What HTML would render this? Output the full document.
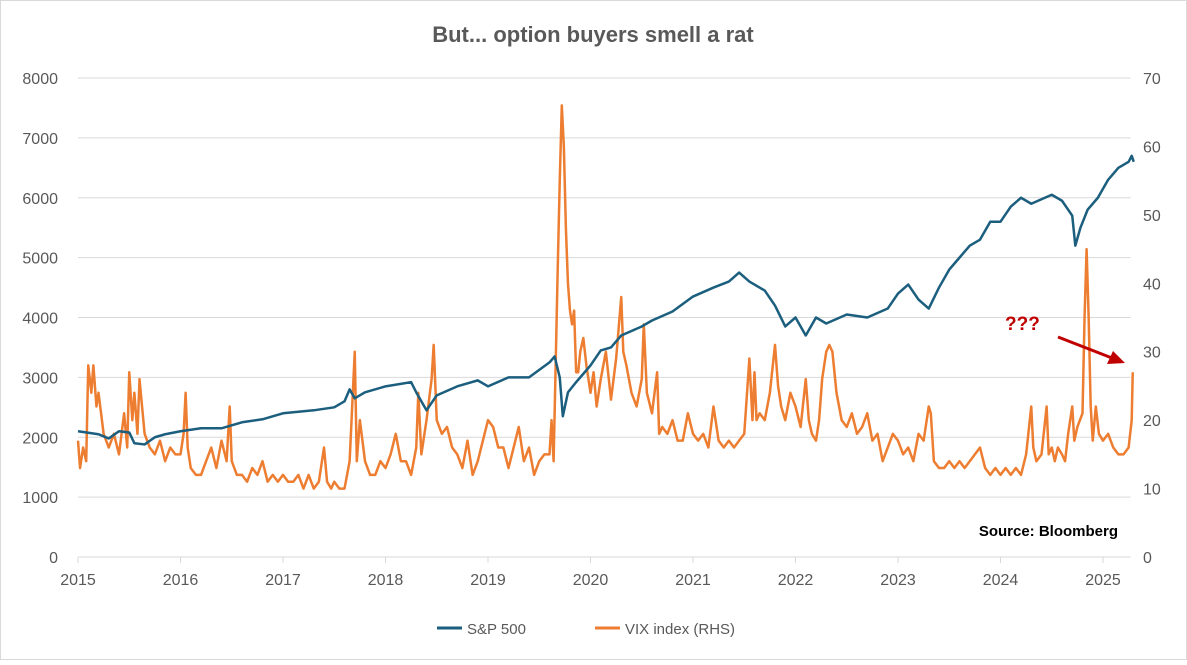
<!DOCTYPE html>
<html><head><meta charset="utf-8"><style>
body{margin:0;background:#fff;}
#wrap{position:relative;width:1187px;height:660px;font-family:"Liberation Sans",sans-serif;}
svg text{font-family:"Liberation Sans",sans-serif;}
</style></head><body>
<div id="wrap">
<svg id="chart" width="1187" height="660">
<rect x="0.5" y="0.5" width="1186" height="659" fill="#fff" stroke="#d9d9d9"/>
<text x="593" y="42" text-anchor="middle" font-size="22" font-weight="bold" fill="#595959">But... option buyers smell a rat</text>
<g id="grid"></g><g id="axes"></g><g id="series"></g>
<text x="1118" y="536" text-anchor="end" font-size="15" font-weight="bold" fill="#000">Source: Bloomberg</text>
<text x="1005" y="330" font-size="19" font-weight="bold" fill="#c00000">???</text>
<line x1="1058" y1="337" x2="1112" y2="358" stroke="#c00000" stroke-width="3"/>
<polygon points="1125,363 1107,364 1113,351" fill="#c00000"/>
<line x1="437" y1="628" x2="462" y2="628" stroke="#1b5e7e" stroke-width="3"/>
<text x="467" y="634" font-size="15" fill="#595959">S&amp;P 500</text>
<line x1="595" y1="628" x2="620" y2="628" stroke="#ed7d31" stroke-width="3"/>
<text x="625" y="634" font-size="15" fill="#595959">VIX index (RHS)</text>
</svg></div>
<script>
const xTicks=[2015,2016,2017,2018,2019,2020,2021,2022,2023,2024,2025];
const leftTicks=[0,1000,2000,3000,4000,5000,6000,7000,8000];
const rightTicks=[0,10,20,30,40,50,60,70];
const spT=[2015.0,2015.2,2015.3,2015.4,2015.5,2015.55,2015.65,2015.75,2015.85,2016.0,2016.2,2016.4,2016.5,2016.6,2016.8,2017.0,2017.3,2017.5,2017.6,2017.65,2017.7,2017.8,2018.0,2018.25,2018.3,2018.4,2018.5,2018.7,2018.9,2019.0,2019.2,2019.4,2019.6,2019.65,2019.7,2019.73,2019.78,2019.85,2019.9,2020.0,2020.1,2020.2,2020.3,2020.5,2020.6,2020.8,2021.0,2021.2,2021.35,2021.45,2021.55,2021.7,2021.8,2021.9,2022.0,2022.1,2022.2,2022.3,2022.5,2022.7,2022.9,2023.0,2023.1,2023.2,2023.3,2023.4,2023.5,2023.6,2023.7,2023.8,2023.9,2024.0,2024.1,2024.2,2024.3,2024.5,2024.6,2024.7,2024.73,2024.78,2024.85,2024.95,2025.05,2025.15,2025.25,2025.28,2025.3];
const spV=[2100,2050,1980,2100,2080,1900,1880,2000,2050,2100,2150,2150,2200,2250,2300,2400,2450,2500,2600,2800,2650,2750,2850,2920,2750,2450,2700,2850,2950,2850,3000,3000,3250,3350,3000,2350,2750,2900,3000,3200,3450,3500,3700,3850,3950,4100,4350,4500,4600,4750,4600,4450,4200,3850,4000,3700,4000,3900,4050,4000,4150,4400,4550,4300,4150,4500,4800,5000,5200,5300,5600,5600,5850,6000,5900,6050,5950,5700,5200,5500,5800,6000,6300,6500,6600,6700,6600];
const vixT=[2015.0,2015.02,2015.05,2015.08,2015.1,2015.13,2015.15,2015.18,2015.2,2015.25,2015.3,2015.35,2015.4,2015.45,2015.48,2015.5,2015.53,2015.55,2015.58,2015.6,2015.65,2015.7,2015.75,2015.8,2015.85,2015.9,2015.95,2016.0,2016.03,2016.05,2016.07,2016.1,2016.15,2016.2,2016.25,2016.3,2016.35,2016.4,2016.45,2016.48,2016.5,2016.55,2016.6,2016.65,2016.7,2016.75,2016.8,2016.85,2016.9,2016.95,2017.0,2017.05,2017.1,2017.15,2017.2,2017.25,2017.3,2017.35,2017.4,2017.43,2017.47,2017.5,2017.55,2017.6,2017.65,2017.7,2017.72,2017.75,2017.8,2017.85,2017.9,2017.95,2018.0,2018.05,2018.1,2018.15,2018.2,2018.25,2018.3,2018.32,2018.35,2018.4,2018.45,2018.47,2018.5,2018.55,2018.6,2018.65,2018.7,2018.75,2018.8,2018.85,2018.9,2018.95,2019.0,2019.05,2019.1,2019.15,2019.2,2019.25,2019.3,2019.35,2019.4,2019.45,2019.5,2019.55,2019.6,2019.62,2019.64,2019.66,2019.68,2019.7,2019.72,2019.74,2019.76,2019.78,2019.8,2019.82,2019.84,2019.86,2019.88,2019.9,2019.93,2019.96,2020.0,2020.03,2020.06,2020.1,2020.15,2020.2,2020.25,2020.3,2020.32,2020.35,2020.4,2020.45,2020.5,2020.52,2020.55,2020.6,2020.65,2020.67,2020.7,2020.75,2020.8,2020.85,2020.9,2020.95,2021.0,2021.05,2021.1,2021.15,2021.2,2021.25,2021.3,2021.35,2021.4,2021.45,2021.5,2021.55,2021.58,2021.6,2021.62,2021.65,2021.7,2021.75,2021.8,2021.83,2021.86,2021.9,2021.95,2022.0,2022.05,2022.1,2022.13,2022.16,2022.2,2022.23,2022.26,2022.3,2022.33,2022.36,2022.4,2022.45,2022.5,2022.55,2022.6,2022.65,2022.7,2022.75,2022.8,2022.85,2022.9,2022.95,2023.0,2023.05,2023.1,2023.15,2023.2,2023.25,2023.3,2023.32,2023.35,2023.4,2023.45,2023.5,2023.55,2023.6,2023.65,2023.7,2023.75,2023.8,2023.85,2023.9,2023.95,2024.0,2024.05,2024.1,2024.15,2024.2,2024.25,2024.3,2024.32,2024.35,2024.4,2024.45,2024.47,2024.5,2024.53,2024.56,2024.6,2024.63,2024.66,2024.7,2024.72,2024.75,2024.8,2024.82,2024.84,2024.86,2024.88,2024.9,2024.93,2024.96,2025.0,2025.05,2025.1,2025.15,2025.2,2025.25,2025.28,2025.29];
const vixV=[17,13,16,14,28,24,28,22,24,18,16,18,15,21,16,27,20,24,18,26,18,16,15,17,14,16,15,15,18,24,16,13,12,12,14,16,13,17,14,22,14,12,12,11,13,12,14,11,12,11,12,11,11,12,10,12,10,11,16,11,10,11,10,10,14,30,14,20,14,12,12,14,13,15,18,14,14,12,16,24,15,20,26,31,20,18,19,16,15,13,17,12,14,17,20,19,16,16,13,16,19,14,16,12,14,15,15,20,14,28,42,55,66,60,48,40,36,34,36,27,27,30,32,28,24,27,22,26,30,23,29,38,30,28,24,22,26,34,24,21,27,18,19,18,20,17,17,21,18,17,18,16,22,17,16,17,16,17,18,29,20,27,20,21,20,24,31,25,22,20,24,22,19,26,20,18,17,20,26,30,31,30,24,20,19,21,18,19,21,17,18,14,16,18,17,15,16,14,18,17,22,21,14,13,13,14,13,14,13,14,15,16,13,12,13,12,13,12,13,12,15,22,16,14,15,22,15,16,14,16,15,14,18,22,17,19,21,35,45,35,22,17,22,18,17,18,16,15,15,16,20,27];
const NS='http://www.w3.org/2000/svg';
const X0=78,X1=1130.5,Y0=557,Y1=78;
const xs=t=>X0+(t-2015)*(1103-X0)/10;
const yL=v=>Y0-v*(Y0-Y1)/8000;
const yR=v=>Y0-v*(Y0-Y1)/70;
function mk(tag,attrs,parent){const e=document.createElementNS(NS,tag);for(const k in attrs)e.setAttribute(k,attrs[k]);parent.appendChild(e);return e;}
const grid=document.getElementById('grid'),axes=document.getElementById('axes'),ser=document.getElementById('series');
leftTicks.forEach(v=>{
 if(v>0){const g=mk('line',{x1:X0,x2:X1,y1:yL(v),y2:yL(v),stroke:'#d9d9d9','stroke-width':1},grid);
 
 }
 const t=mk('text',{x:58,y:yL(v)+6,'text-anchor':'end','font-size':16,fill:'#595959'},axes);t.textContent=v;
 
 
});
rightTicks.forEach(v=>{
 const t=mk('text',{x:1143,y:yR(v)+6,'font-size':16,fill:'#595959'},axes);t.textContent=v;
 
 
});
const xa=mk('line',{x1:X0,x2:X1,y1:Y0,y2:Y0,stroke:'#d9d9d9','stroke-width':1},axes);


xTicks.forEach(v=>{
 const tk=mk('line',{x1:xs(v),x2:xs(v),y1:Y0,y2:Y0+6,stroke:'#d9d9d9'},axes);
 
 
 const t=mk('text',{x:xs(v),y:Y0+28,'text-anchor':'middle','font-size':16,fill:'#595959'},axes);t.textContent=v;
 
 
});
const vp=mk('polyline',{points:vixT.map((t,i)=>xs(t)+','+yR(vixV[i])).join(' '),fill:'none',stroke:'#ed7d31','stroke-width':2.5,'stroke-linejoin':'round'},ser);


const sp=mk('polyline',{points:spT.map((t,i)=>xs(t)+','+yL(spV[i])).join(' '),fill:'none',stroke:'#1b5e7e','stroke-width':2.5,'stroke-linejoin':'round'},ser);


</script>
</body></html>
